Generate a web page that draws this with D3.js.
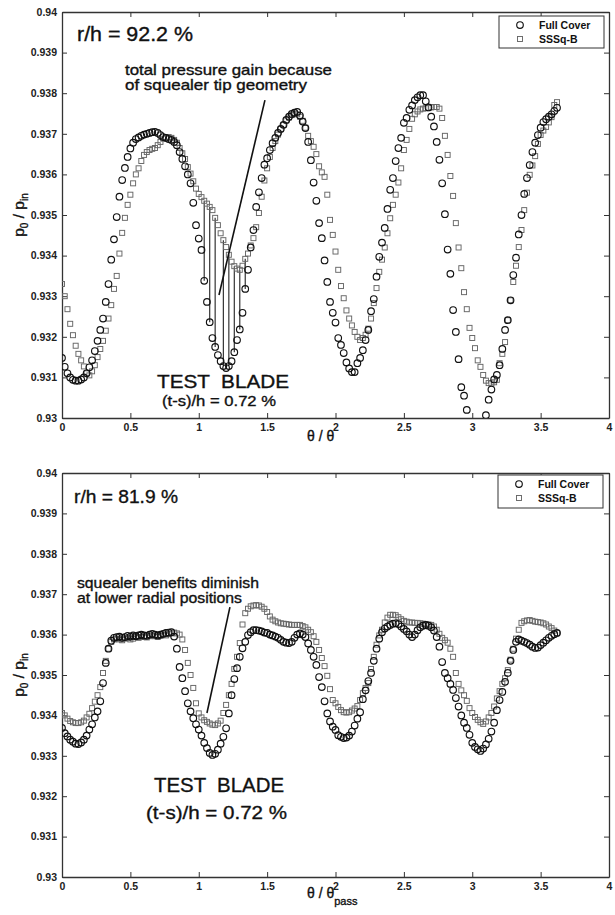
<!DOCTYPE html>
<html><head><meta charset="utf-8">
<script src="https://cdn.jsdelivr.net/npm/d3@7/dist/d3.min.js"></script>
<style>body{margin:0;background:#fff}</style>
</head><body>
<svg id="chart" width="615" height="915"></svg>
<script>
// ---- data ----
const theta = [
0,0.02,0.04,0.06,0.08,0.10,0.12,0.14,0.16,0.18,
0.20,0.22,0.24,0.26,0.28,0.30,0.32,0.34,0.36,0.38,
0.40,0.42,0.44,0.46,0.48,0.50,0.52,0.54,0.56,0.58,
0.60,0.62,0.64,0.66,0.68,0.70,0.72,0.74,0.76,0.78,
0.80,0.82,0.84,0.86,0.88,0.90,0.92,0.94,0.96,0.98,
1.00,1.02,1.04,1.06,1.08,1.10,1.12,1.14,1.16,1.18,
1.20,1.22,1.24,1.26,1.28,1.30,1.32,1.34,1.36,1.38,
1.40,1.42,1.44,1.46,1.48,1.50,1.52,1.54,1.56,1.58,
1.60,1.62,1.64,1.66,1.68,1.70,1.72,1.74,1.76,1.78,
1.80,1.82,1.84,1.86,1.88,1.90,1.92,1.94,1.96,1.98,
2.00,2.02,2.04,2.06,2.08,2.10,2.12,2.14,2.16,2.18,
2.20,2.22,2.24,2.26,2.28,2.30,2.32,2.34,2.36,2.38,
2.40,2.42,2.44,2.46,2.48,2.50,2.52,2.54,2.56,2.58,
2.60,2.62,2.64,2.66,2.68,2.70,2.72,2.74,2.76,2.78,
2.80,2.82,2.84,2.86,2.88,2.90,2.92,2.94,2.96,2.98,
3.00,3.02,3.04,3.06,3.08,3.10,3.12,3.14,3.16,3.18,
3.20,3.22,3.24,3.26,3.28,3.30,3.32,3.34,3.36,3.38,
3.40,3.42,3.44,3.46,3.48,3.50,3.52,3.54,3.56,3.58,
3.60,3.62];

// r/h = 92.2 %
const fullCover92 = [
0.93148,0.93126,0.93110,0.93100,0.93094,0.93092,0.93092,0.93095,0.93100,0.93110,
0.93125,0.93142,0.93165,0.93190,0.93217,0.93245,0.93286,0.93330,0.93390,0.93440,
0.93495,0.93545,0.93586,0.93616,0.93643,0.93664,0.93678,0.93687,0.93691,0.93695,
0.93698,0.93700,0.93702,0.93704,0.93705,0.93702,0.93697,0.93692,0.93690,0.93687,
0.93685,0.93680,0.93672,0.93655,0.93638,0.93620,0.93600,0.93578,0.93530,0.93475,
0.93442,0.93414,0.93338,0.93286,0.93236,0.93197,0.93175,0.93155,0.93140,0.93128,
0.93123,0.93128,0.93140,0.93162,0.93192,0.93218,0.93259,0.93318,0.93365,0.93420,
0.93463,0.93520,0.93556,0.93591,0.93624,0.93640,0.93660,0.93677,0.93690,0.93702,
0.93712,0.93722,0.93734,0.93742,0.93749,0.93752,0.93754,0.93745,0.93730,0.93714,
0.93680,0.93635,0.93580,0.93535,0.93480,0.93443,0.93388,0.93335,0.93286,0.93259,
0.93235,0.93197,0.93180,0.93160,0.93137,0.93122,0.93113,0.93113,0.93135,0.93148,
0.93167,0.93192,0.93217,0.93263,0.93293,0.93348,0.93397,0.93432,0.93468,0.93515,
0.93562,0.93591,0.93633,0.93665,0.93690,0.93727,0.93739,0.93759,0.93770,0.93783,
0.93790,0.93795,0.93795,0.93780,0.93765,0.93742,0.93718,0.93680,0.93636,0.93578,
0.93502,0.93415,0.93355,0.93266,0.93212,0.93145,0.93076,0.93055,0.93020,0.92990,
0.92970,0.92955,0.92945,0.92955,0.92985,0.93007,0.93045,0.93070,0.93095,0.93106,
0.93130,0.93170,0.93217,0.93241,0.93290,0.93352,0.93395,0.93452,0.93500,0.93552,
0.93591,0.93623,0.93655,0.93678,0.93697,0.93715,0.93729,0.93736,0.93742,0.93748,
0.93756,0.93764];

const sssqB92 = [
0.93330,0.93300,0.93268,0.93232,0.93204,0.93178,0.93158,0.93142,0.93127,0.93110,
0.93105,0.93115,0.93130,0.93150,0.93170,0.93190,0.93215,0.93245,0.93278,0.93318,
0.93350,0.93405,0.93456,0.93493,0.93525,0.93550,0.93578,0.93600,0.93615,0.93633,
0.93648,0.93655,0.93660,0.93663,0.93665,0.93672,0.93680,0.93688,0.93691,0.93692,
0.93690,0.93685,0.93678,0.93665,0.93652,0.93638,0.93618,0.93602,0.93583,0.93565,
0.93552,0.93544,0.93535,0.93528,0.93520,0.93512,0.93493,0.93475,0.93455,0.93438,
0.93421,0.93402,0.93385,0.93374,0.93368,0.93365,0.93375,0.93392,0.93405,0.93425,
0.93443,0.93470,0.93505,0.93545,0.93585,0.93615,0.93643,0.93665,0.93682,0.93698,
0.93712,0.93722,0.93733,0.93740,0.93746,0.93750,0.93748,0.93742,0.93732,0.93715,
0.93695,0.93682,0.93668,0.93650,0.93620,0.93605,0.93594,0.93550,0.93488,0.93451,
0.93410,0.93365,0.93325,0.93295,0.93265,0.93245,0.93228,0.93212,0.93200,0.93192,
0.93197,0.93205,0.93220,0.93245,0.93283,0.93320,0.93360,0.93390,0.93420,0.93455,
0.93492,0.93525,0.93550,0.93580,0.93615,0.93660,0.93685,0.93712,0.93737,0.93748,
0.93755,0.93760,0.93762,0.93763,0.93764,0.93765,0.93766,0.93766,0.93762,0.93739,
0.93695,0.93648,0.93596,0.93547,0.93480,0.93420,0.93369,0.93310,0.93268,0.93222,
0.93197,0.93172,0.93142,0.93126,0.93106,0.93092,0.93086,0.93085,0.93088,0.93094,
0.93135,0.93158,0.93187,0.93241,0.93290,0.93335,0.93375,0.93421,0.93463,0.93512,
0.93555,0.93599,0.93622,0.93645,0.93675,0.93697,0.93708,0.93717,0.93728,0.93741,
0.93771,0.93778];

// r/h = 81.9 %
const fullCover82 = [
0.93369,0.93356,0.93348,0.93340,0.93335,0.93330,0.93329,0.93333,0.93340,0.93350,
0.93365,0.93378,0.93395,0.93410,0.93435,0.93480,0.93530,0.93565,0.93585,0.93592,
0.93594,0.93595,0.93592,0.93594,0.93597,0.93595,0.93598,0.93596,0.93598,0.93600,
0.93598,0.93597,0.93600,0.93602,0.93600,0.93598,0.93600,0.93602,0.93604,0.93605,
0.93606,0.93595,0.93565,0.93520,0.93492,0.93460,0.93430,0.93410,0.93393,0.93378,
0.93365,0.93350,0.93332,0.93319,0.93307,0.93302,0.93305,0.93315,0.93330,0.93347,
0.93368,0.93405,0.93450,0.93490,0.93517,0.93545,0.93566,0.93582,0.93599,0.93606,
0.93611,0.93611,0.93610,0.93608,0.93605,0.93604,0.93600,0.93598,0.93595,0.93592,
0.93587,0.93582,0.93580,0.93579,0.93582,0.93592,0.93600,0.93603,0.93600,0.93594,
0.93578,0.93562,0.93545,0.93525,0.93495,0.93470,0.93435,0.93405,0.93385,0.93372,
0.93364,0.93351,0.93347,0.93344,0.93345,0.93350,0.93360,0.93375,0.93392,0.93408,
0.93440,0.93462,0.93485,0.93505,0.93535,0.93565,0.93590,0.93606,0.93615,0.93620,
0.93624,0.93627,0.93628,0.93626,0.93620,0.93614,0.93608,0.93600,0.93594,0.93600,
0.93611,0.93618,0.93622,0.93624,0.93622,0.93618,0.93610,0.93594,0.93570,0.93532,
0.93505,0.93492,0.93478,0.93463,0.93443,0.93422,0.93400,0.93382,0.93369,0.93352,
0.93332,0.93322,0.93316,0.93312,0.93318,0.93328,0.93342,0.93360,0.93382,0.93413,
0.93438,0.93458,0.93483,0.93505,0.93535,0.93562,0.93582,0.93588,0.93585,0.93582,
0.93579,0.93575,0.93570,0.93567,0.93568,0.93574,0.93580,0.93586,0.93592,0.93597,
0.93601,0.93604];

const sssqB82 = [
0.93406,0.93400,0.93392,0.93386,0.93383,0.93381,0.93381,0.93383,0.93387,0.93395,
0.93404,0.93418,0.93434,0.93450,0.93470,0.93505,0.93535,0.93565,0.93582,0.93588,
0.93590,0.93588,0.93586,0.93590,0.93592,0.93588,0.93590,0.93594,0.93592,0.93594,
0.93596,0.93593,0.93596,0.93598,0.93596,0.93594,0.93597,0.93600,0.93598,0.93601,
0.93603,0.93605,0.93603,0.93600,0.93588,0.93562,0.93530,0.93500,0.93468,0.93430,
0.93405,0.93395,0.93388,0.93384,0.93380,0.93377,0.93376,0.93380,0.93387,0.93406,
0.93426,0.93450,0.93478,0.93515,0.93545,0.93579,0.93625,0.93653,0.93664,0.93670,
0.93672,0.93673,0.93672,0.93669,0.93664,0.93656,0.93645,0.93637,0.93633,0.93630,
0.93628,0.93627,0.93626,0.93625,0.93624,0.93624,0.93624,0.93624,0.93621,0.93618,
0.93612,0.93606,0.93596,0.93582,0.93562,0.93542,0.93522,0.93498,0.93465,0.93438,
0.93430,0.93421,0.93413,0.93408,0.93407,0.93408,0.93412,0.93417,0.93423,0.93438,
0.93455,0.93468,0.93480,0.93515,0.93545,0.93575,0.93598,0.93612,0.93630,0.93642,
0.93649,0.93649,0.93648,0.93643,0.93638,0.93634,0.93632,0.93630,0.93630,0.93629,
0.93629,0.93628,0.93627,0.93626,0.93625,0.93624,0.93620,0.93612,0.93602,0.93592,
0.93586,0.93580,0.93565,0.93545,0.93505,0.93478,0.93462,0.93450,0.93436,0.93418,
0.93406,0.93396,0.93389,0.93383,0.93379,0.93385,0.93395,0.93406,0.93422,0.93442,
0.93460,0.93478,0.93492,0.93512,0.93538,0.93565,0.93590,0.93612,0.93629,0.93633,
0.93635,0.93636,0.93634,0.93632,0.93631,0.93630,0.93628,0.93625,0.93620,0.93616,
0.93610,0.93604];

const seriesNames = ["Full Cover", "SSSq-B"];
const xTicks = [0, 0.5, 1, 1.5, 2, 2.5, 3, 3.5, 4];
const xTickLabels = ["0", "0.5", "1", "1.5", "2", "2.5", "3", "3.5", "4"];
const yTicks = [0.93, 0.931, 0.932, 0.933, 0.934, 0.935, 0.936, 0.937, 0.938, 0.939, 0.94];
const yTickLabels = ["0.93", "0.931", "0.932", "0.933", "0.934", "0.935", "0.936", "0.937", "0.938", "0.939", "0.94"];
const hatchTheta = [1.04, 1.08, 1.12, 1.18, 1.22, 1.26, 1.30, 1.34];

// ---- drawing ----
const svg = d3.select("#chart");
const FONT = "'Liberation Sans', Arial, Helvetica, sans-serif";
const X0 = 62, X1 = 609;

const panels = [
  { id: "p1", top: 12, bottom: 418, fc: fullCover92, sq: sssqB92,
    title: "r/h = 92.2 %", titlePos: [77, 41, 116, 20],
    notes: [["total pressure gain because", 125, 75, 207], ["of squealer tip geometry", 125, 90, 182]],
    noteSize: 14.5,
    pointer: [[1.484, 0.93783], [1.148, 0.93303]],
    blade: [[157, 388, 132, 18], [162, 406, 114, 14.5]],
    hatch: true, xlabelY: 441, sub: false,
    legend: [499, 16, 105, 32] },
  { id: "p2", top: 473, bottom: 877, fc: fullCover82, sq: sssqB82,
    title: "r/h = 81.9 %", titlePos: [74, 503, 104, 19],
    notes: [["squealer benefits diminish", 77, 588, 182], ["at lower radial positions", 77, 603, 165]],
    noteSize: 14,
    pointer: [[1.228, 0.93668], [1.06, 0.93406]],
    blade: [[154, 792, 130, 21], [146, 819, 141, 18]],
    hatch: false, xlabelY: 898, sub: true,
    legend: [498, 475, 105, 33] }
];

panels.forEach(p => {
  const x = d3.scaleLinear().domain([0, 4]).range([X0, X1]);
  const y = d3.scaleLinear().domain([0.93, 0.94]).range([p.bottom, p.top]);
  const g = svg.append("g");

  g.append("clipPath").attr("id", "clip-" + p.id)
    .append("rect").attr("x", X0).attr("y", p.top).attr("width", X1 - X0).attr("height", p.bottom - p.top);

  const axStyle = sel => {
    sel.selectAll("path.domain").attr("stroke", "#333").attr("stroke-width", 1.3);
    sel.selectAll(".tick line").attr("stroke", "#333").attr("stroke-width", 1);
    sel.selectAll(".tick text").attr("font-family", FONT).attr("font-size", 10.5)
      .attr("font-weight", "bold").attr("fill", "#222");
  };

  g.append("g").attr("transform", `translate(0,${p.bottom})`)
    .call(d3.axisBottom(x).tickValues(xTicks).tickFormat((d, i) => xTickLabels[i]).tickSizeInner(-5).tickSizeOuter(0).tickPadding(6))
    .call(axStyle);
  g.append("g").attr("transform", `translate(0,${p.top})`)
    .call(d3.axisTop(x).tickValues(xTicks).tickFormat("").tickSizeInner(-5).tickSizeOuter(0))
    .call(axStyle);
  g.append("g").attr("transform", `translate(${X0},0)`)
    .call(d3.axisLeft(y).tickValues(yTicks).tickFormat((d, i) => yTickLabels[i]).tickSizeInner(-5).tickSizeOuter(0).tickPadding(5))
    .call(axStyle);
  g.append("g").attr("transform", `translate(${X1},0)`)
    .call(d3.axisRight(y).tickValues(yTicks).tickFormat("").tickSizeInner(-5).tickSizeOuter(0))
    .call(axStyle);

  const plot = g.append("g").attr("clip-path", `url(#clip-${p.id})`);

  // hatch lines showing the gain
  if (p.hatch) {
    hatchTheta.forEach(t => {
      const i = theta.findIndex(v => Math.abs(v - t) < 1e-6);
      plot.append("line")
        .attr("x1", x(t)).attr("x2", x(t))
        .attr("y1", y(p.fc[i])).attr("y2", y(p.sq[i]))
        .attr("stroke", "#333").attr("stroke-width", 1.2);
    });
  }

  // SSSq-B squares
  const sz = 5;
  plot.append("g").selectAll("rect").data(theta.map((t, i) => [t, p.sq[i]])).join("rect")
    .attr("x", d => x(d[0]) - sz / 2).attr("y", d => y(d[1]) - sz / 2)
    .attr("width", sz).attr("height", sz)
    .attr("fill", "none").attr("stroke", "#666").attr("stroke-width", 0.95);

  // Full Cover circles
  plot.append("g").selectAll("circle").data(theta.map((t, i) => [t, p.fc[i]])).join("circle")
    .attr("cx", d => x(d[0])).attr("cy", d => y(d[1])).attr("r", 3.3)
    .attr("fill", "none").attr("stroke", "#111").attr("stroke-width", 1.15);

  // pointer line
  g.append("line")
    .attr("x1", x(p.pointer[0][0])).attr("y1", y(p.pointer[0][1]))
    .attr("x2", x(p.pointer[1][0])).attr("y2", y(p.pointer[1][1]))
    .attr("stroke", "#111").attr("stroke-width", 1.6);

  // texts (slightly heavier, like the scanned original)
  const heavy = sel => sel.attr("fill", "#111").attr("stroke", "#111").attr("stroke-width", 0.35);
  const t = p.titlePos;
  g.append("text").attr("x", t[0]).attr("y", t[1]).attr("font-family", FONT).attr("font-size", t[3])
    .attr("textLength", t[2]).attr("lengthAdjust", "spacingAndGlyphs").call(heavy).text(p.title);
  p.notes.forEach(n => {
    g.append("text").attr("x", n[1]).attr("y", n[2]).attr("font-family", FONT).attr("font-size", p.noteSize)
      .attr("textLength", n[3]).attr("lengthAdjust", "spacingAndGlyphs").call(heavy).text(n[0]);
  });
  const bladeTexts = ["TEST  BLADE", "(t-s)/h = 0.72 %"];
  p.blade.forEach((b, i) => {
    g.append("text").attr("x", b[0]).attr("y", b[1]).attr("font-family", FONT).attr("font-size", b[3])
      .attr("textLength", b[2]).attr("lengthAdjust", "spacingAndGlyphs").call(heavy)
      .attr("xml:space", "preserve").style("white-space", "pre").text(bladeTexts[i]);
  });

  // y label
  const cy = (p.top + p.bottom) / 2;
  const yl = g.append("text").attr("transform", `translate(24,${cy}) rotate(-90)`)
    .attr("text-anchor", "middle").attr("font-family", FONT).attr("font-size", 15.5).call(heavy);
  yl.append("tspan").text("p");
  yl.append("tspan").attr("dy", 4).attr("font-size", 10).text("0");
  yl.append("tspan").attr("dy", -4).text(" / p");
  yl.append("tspan").attr("dy", 4).attr("font-size", 10).text("in");

  // x label
  const xl = g.append("text").attr("x", 307).attr("y", p.xlabelY).attr("font-family", FONT)
    .attr("font-size", 14).call(heavy);
  xl.append("tspan").text("θ / θ");
  if (p.sub) xl.append("tspan").attr("dy", 7).attr("font-size", 11).text("pass");

  // legend
  const L = p.legend;
  const lg = g.append("g");
  lg.append("rect").attr("x", L[0]).attr("y", L[1]).attr("width", L[2]).attr("height", L[3])
    .attr("fill", "#fff").attr("stroke", "#333").attr("stroke-width", 1);
  const rowY = [L[1] + 9, L[1] + 23];
  lg.append("circle").attr("cx", L[0] + 21).attr("cy", rowY[0]).attr("r", 3.3)
    .attr("fill", "none").attr("stroke", "#111").attr("stroke-width", 1.15);
  lg.append("rect").attr("x", L[0] + 21 - 2.5).attr("y", rowY[1] - 2.5).attr("width", 5).attr("height", 5)
    .attr("fill", "none").attr("stroke", "#666").attr("stroke-width", 0.95);
  seriesNames.forEach((s, i) => {
    lg.append("text").attr("x", L[0] + 40).attr("y", rowY[i] + 4).attr("font-family", FONT)
      .attr("font-size", 10.5).attr("font-weight", "bold").attr("fill", "#111").text(s);
  });
});
</script>
</body></html>
